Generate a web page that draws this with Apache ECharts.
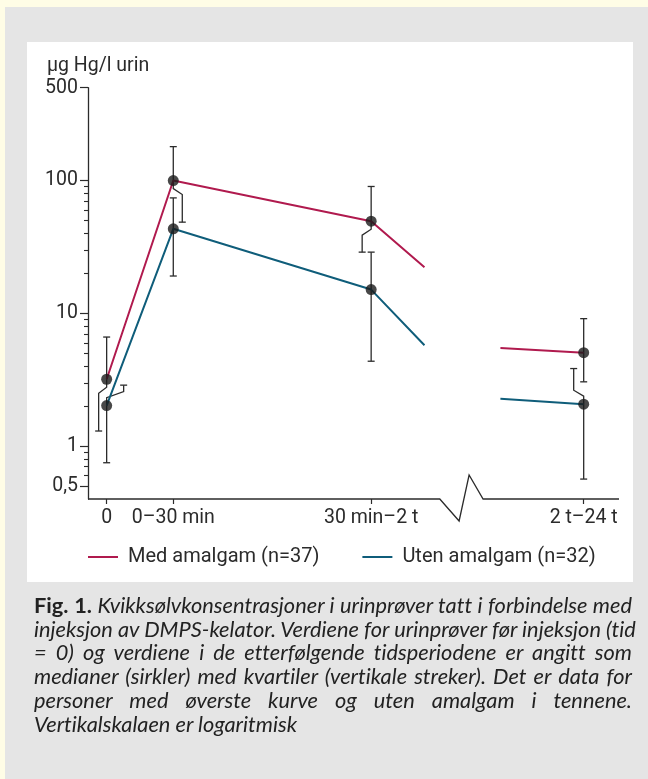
<!DOCTYPE html>
<html>
<head>
<meta charset="utf-8">
<script src="https://cdn.jsdelivr.net/npm/echarts@6/dist/echarts.min.js"></script>
<style>
  html, body { margin: 0; padding: 0; width: 648px; height: 779px; overflow: hidden; background: #fffde6; }
  #gray { position: absolute; left: 5px; top: 7px; right: 0; bottom: 0; background: #e5e5e5; }
  #white { position: absolute; left: 27px; top: 42px; width: 606px; height: 540px; background: #ffffff; }
  #chart { position: absolute; left: 0; top: 0; width: 648px; height: 779px; }
  #caption { position: absolute; left: 34px; top: 594px; transform-origin: 0 0;
    font-family: Lato, Roboto, sans-serif; font-size: 21.5px; line-height: 23.7px; color: #222; font-style: italic;
    font-variant-ligatures: none; }
  #caption .ln { white-space: nowrap; text-align: justify; text-align-last: justify; }
  #caption .ln.last { text-align-last: left; }
  #caption b { font-style: normal; font-weight: 700; }
  #measure { position: absolute; visibility: hidden; white-space: nowrap; font-variant-ligatures: none;
    font-family: Lato, Roboto, sans-serif; font-size: 21.5px; font-style: italic; }
</style>
</head>
<body>
<div id="gray"></div>
<div id="white"></div>
<div id="chart"></div>
<div id="caption">
  <div class="ln"><b>Fig. 1.</b> Kvikksølvkonsentrasjoner i urinprøver tatt i forbindelse med</div>
  <div class="ln">injeksjon av DMPS-kelator. Verdiene for urinprøver før injeksjon (tid</div>
  <div class="ln">= 0) og verdiene i de etterfølgende tidsperiodene er angitt som</div>
  <div class="ln">medianer (sirkler) med kvartiler (vertikale streker). Det er data for</div>
  <div class="ln">personer med øverste kurve og uten amalgam i tennene.</div>
  <div class="ln last">Vertikalskalaen er logaritmisk</div>
</div>
<span id="measure">Vertikalskalaen er logaritmisk</span>
<script>
// ---- data ----
const xPositions = [0, 1, 3.97, 7.16];
const xLabels = ['0', '0–30 min', '30 min–2 t', '2 t–24 t'];
const yMajorTicks = [0.5, 1, 10, 100, 500];
const yMinorTicks = [0.6, 0.7, 0.8, 0.9, 2, 3, 4, 5, 6, 7, 8, 9, 20, 30, 40, 50, 60, 70, 80, 90];
const seriesNames = ['Med amalgam (n=37)', 'Uten amalgam (n=32)'];
const medMedian = [3.19, 100, 49.4, 5.06];
const medQ1 = [1.30, 48.6, 28.9, 3.05];
const medQ3 = [6.63, 180, 90.2, 9.12];
const utenMedian = [2.02, 43.3, 15.1, 2.07];
const utenQ1 = [0.75, 19.1, 4.36, 0.565];
const utenQ3 = [2.88, 74, 28.9, 3.84];
// curve stubs on each side of the axis break
const stubX = [4.77, 5.91];
const medStub = [22.2, 5.48];
const utenStub = [5.75, 2.27];

// ---- style ----
const RED = '#b01a4e', BLUE = '#0f5d7a', INK = '#2b2b2b';
const X_MIN = -0.28, X_MAX = 7.69, Y_MIN = 0.4, Y_MAX = 500;
const BREAK_X = [5.0, 5.29, 5.44, 5.65];
const BREAK_DY = [0, 22, -24, 0];
// horizontal jog (px) of quartile whiskers, to keep them apart
const jogs = {
  medLow: [-8, 9, -9, 0], medHigh: [0, 0, 0, 0],
  utenLow: [0, 0, 0, 0], utenHigh: [17, 0, 0, -10]
};
const FONT = 'Roboto, "Liberation Sans", sans-serif';

const chart = echarts.init(document.getElementById('chart'), null, { renderer: 'canvas' });

const whiskers = [];
xPositions.forEach((x, i) => {
  whiskers.push([x, medMedian[i], medQ1[i], jogs.medLow[i]]);
  whiskers.push([x, medMedian[i], medQ3[i], jogs.medHigh[i]]);
  whiskers.push([x, utenMedian[i], utenQ1[i], jogs.utenLow[i]]);
  whiskers.push([x, utenMedian[i], utenQ3[i], jogs.utenHigh[i]]);
});

function lineData(xs, ys) { return xs.map((x, i) => [x, ys[i]]); }

const option = {
  animation: false,
  backgroundColor: 'transparent',
  textStyle: { fontFamily: FONT },
  grid: { left: 88, right: 29, top: 87.7, bottom: 280 },
  graphic: [{
    type: 'text', left: 47, top: 56,
    style: { text: 'μg Hg/l urin', fontSize: 19.5, fontFamily: FONT, fill: INK }
  }],
  legend: {
    left: 88, top: 547, padding: 0, itemWidth: 30, itemHeight: 2, itemGap: 43,
    textStyle: { fontSize: 20, color: INK, fontFamily: FONT, padding: [0, 0, 0, 5] },
    data: [{ name: seriesNames[0], icon: 'rect' }, { name: seriesNames[1], icon: 'rect' }]
  },
  xAxis: {
    type: 'value', min: X_MIN, max: X_MAX,
    axisLine: { show: false, onZero: false },
    splitLine: { show: false },
    axisTick: { show: true, length: 5, customValues: xPositions, lineStyle: { color: INK, width: 1.2 } },
    axisLabel: {
      customValues: xPositions, margin: 9, fontSize: 19.5, color: INK, fontFamily: FONT,
      formatter: v => { const i = xPositions.findIndex(p => Math.abs(p - v) < 1e-6); return i >= 0 ? xLabels[i] : ''; }
    }
  },
  yAxis: [{
    type: 'log', logBase: 10, min: Y_MIN, max: Y_MAX, position: 'left',
    axisLine: { show: true, onZero: false, lineStyle: { color: INK, width: 1.3 } },
    splitLine: { show: false },
    axisTick: { show: true, length: 8, customValues: yMajorTicks, lineStyle: { color: INK, width: 1.2 } },
    axisLabel: {
      customValues: yMajorTicks, margin: 10, fontSize: 19.5, color: INK, fontFamily: FONT,
      formatter: v => String(v).replace('.', ',')
    }
  }, {
    type: 'log', logBase: 10, min: Y_MIN, max: Y_MAX, position: 'left',
    axisLine: { show: false, onZero: false },
    splitLine: { show: false },
    axisLabel: { show: false },
    axisTick: { show: true, length: 4, customValues: yMinorTicks, lineStyle: { color: INK, width: 1.1 } }
  }],
  series: [
    {
      type: 'custom', name: 'axis', silent: true, clip: false, z: 1,
      data: [[X_MIN]],
      renderItem: (params, api) => {
        const y0 = api.coord([X_MIN, Y_MIN])[1];
        const xl = api.coord([X_MIN, Y_MIN])[0];
        const xr = api.coord([X_MAX, Y_MIN])[0];
        const pts = [[xl, y0]];
        BREAK_X.forEach((bx, k) => pts.push([api.coord([bx, Y_MIN])[0], y0 + BREAK_DY[k]]));
        pts.push([xr, y0]);
        return { type: 'polyline', shape: { points: pts }, style: { stroke: INK, lineWidth: 1.3, fill: null } };
      }
    },
    {
      type: 'custom', name: 'whiskers', silent: true, clip: false, z: 2,
      data: whiskers,
      renderItem: (params, api) => {
        const x = api.value(0), med = api.value(1), q = api.value(2), jog = api.value(3);
        const p0 = api.coord([x, med]);
        const pq = api.coord([x, q]);
        const dir = pq[1] > p0[1] ? 1 : -1;
        let pts;
        if (jog === 0) {
          pts = [p0, pq];
        } else {
          const a = 8, b = 6;
          pts = [p0, [p0[0], p0[1] + dir * a], [p0[0] + jog, p0[1] + dir * (a + b)], [p0[0] + jog, pq[1]]];
        }
        const cx = pts[pts.length - 1][0];
        return {
          type: 'group', children: [
            { type: 'polyline', shape: { points: pts }, style: { stroke: INK, lineWidth: 1.3, fill: null } },
            { type: 'line', shape: { x1: cx - 3.5, y1: pq[1], x2: cx + 3.5, y2: pq[1] }, style: { stroke: INK, lineWidth: 1.3 } }
          ]
        };
      }
    },
    {
      type: 'line', name: seriesNames[0], z: 3, showSymbol: false, color: RED,
      lineStyle: { color: RED, width: 2 },
      data: lineData(xPositions.slice(0, 3).concat([stubX[0]]), medMedian.slice(0, 3).concat([medStub[0]]))
    },
    {
      type: 'line', name: seriesNames[0], z: 3, showSymbol: false, color: RED,
      lineStyle: { color: RED, width: 2 },
      data: lineData([stubX[1], xPositions[3]], [medStub[1], medMedian[3]])
    },
    {
      type: 'line', name: seriesNames[1], z: 3, showSymbol: false, color: BLUE,
      lineStyle: { color: BLUE, width: 2 },
      data: lineData(xPositions.slice(0, 3).concat([stubX[0]]), utenMedian.slice(0, 3).concat([utenStub[0]]))
    },
    {
      type: 'line', name: seriesNames[1], z: 3, showSymbol: false, color: BLUE,
      lineStyle: { color: BLUE, width: 2 },
      data: lineData([stubX[1], xPositions[3]], [utenStub[1], utenMedian[3]])
    },
    {
      type: 'scatter', name: 'medianer', z: 5, symbol: 'circle', symbolSize: 11,
      itemStyle: { color: '#1a1a1a' },
      data: lineData(xPositions, medMedian).concat(lineData(xPositions, utenMedian))
    }
  ]
};
chart.setOption(option);

// caption: condensed, justified lines
const lastW = document.getElementById('measure').getBoundingClientRect().width;
const scale = 263 / lastW;
const cap = document.getElementById('caption');
cap.style.width = (598 / scale) + 'px';
cap.style.transform = 'scaleX(' + scale + ')';
</script>
</body>
</html>
